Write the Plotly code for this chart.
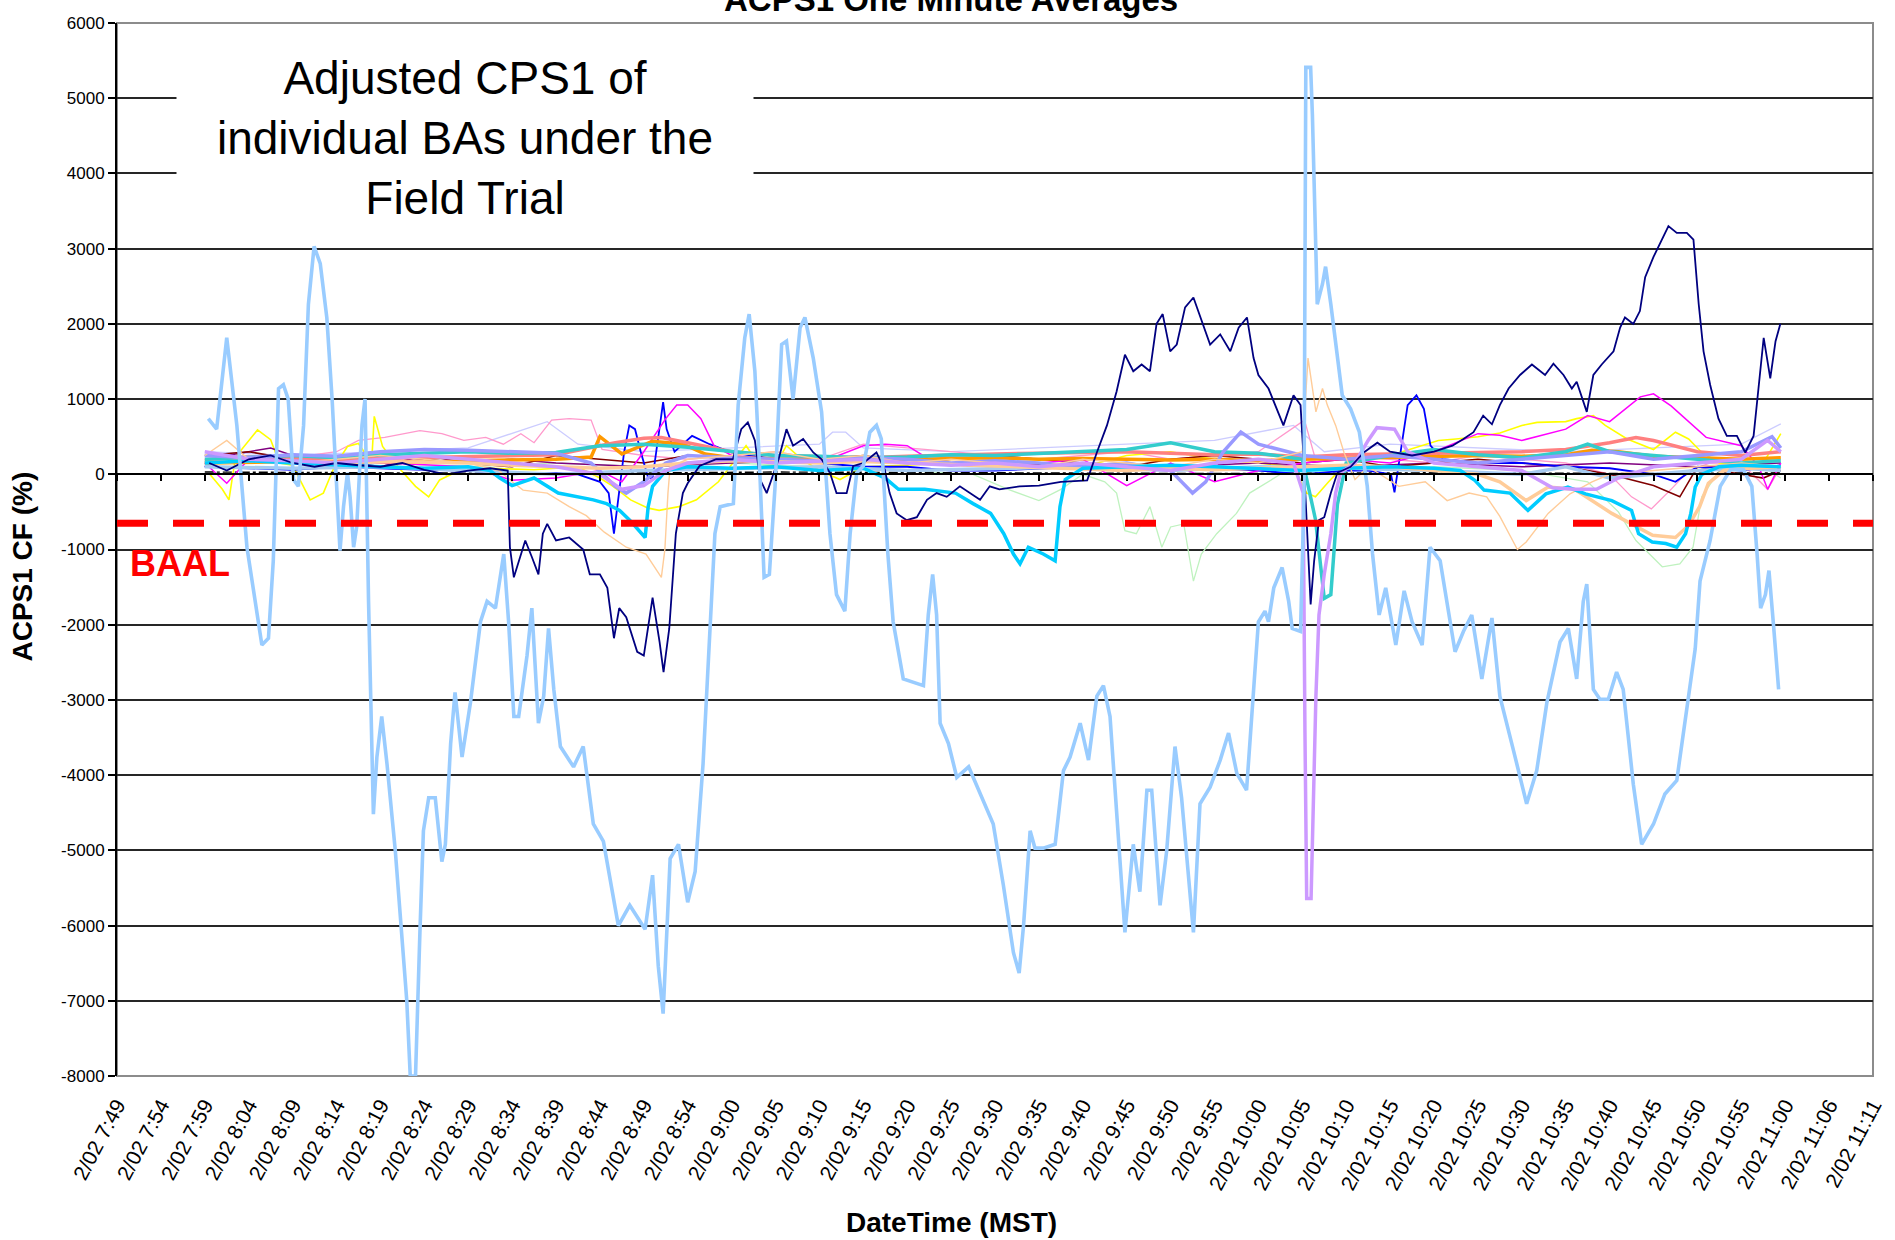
import plotly.graph_objects as go

# ---------------- axis categories (tick labels at category-group boundaries) ----------------
TIME_LABELS = ["2/02 7:49", "2/02 7:54", "2/02 7:59", "2/02 8:04", "2/02 8:09", "2/02 8:14",
               "2/02 8:19", "2/02 8:24", "2/02 8:29", "2/02 8:34", "2/02 8:39", "2/02 8:44",
               "2/02 8:49", "2/02 8:54", "2/02 9:00", "2/02 9:05", "2/02 9:10", "2/02 9:15",
               "2/02 9:20", "2/02 9:25", "2/02 9:30", "2/02 9:35", "2/02 9:40", "2/02 9:45",
               "2/02 9:50", "2/02 9:55", "2/02 10:00", "2/02 10:05", "2/02 10:10", "2/02 10:15",
               "2/02 10:20", "2/02 10:25", "2/02 10:30", "2/02 10:35", "2/02 10:40", "2/02 10:45",
               "2/02 10:50", "2/02 10:55", "2/02 11:00", "2/02 11:06", "2/02 11:11"]
TICK_POS = list(range(len(TIME_LABELS)))
Y_TICKS = list(range(-8000, 6001, 1000))
Y_TICK_TEXT = [str(v) for v in Y_TICKS]
BAAL_POS = [0, 40]
BAAL_VAL = [-650, -650]

# ---------------- series: (position on category axis, ACPS1 CF %) ----------------
LIGHT_BLUE = [(2.08, 740), (2.27, 600), (2.5, 1815), (2.73, 650), (2.96, -970), (3.19, -1870), (3.3, -2270),
              (3.45, -2180), (3.56, -1150), (3.68, 1140), (3.79, 1190), (3.9, 1000), (4.02, -70), (4.13, -160),
              (4.25, 650), (4.36, 2260), (4.49, 3030), (4.63, 2800), (4.78, 2080), (4.9, 1000), (5.0, -70),
              (5.08, -1015), (5.16, -430), (5.25, 20), (5.31, -300), (5.39, -970), (5.46, -700), (5.58, 650),
              (5.65, 1000), (5.73, -1690), (5.84, -4520), (5.92, -3760), (6.03, -3220), (6.15, -3850),
              (6.34, -5010), (6.49, -6090), (6.6, -6990), (6.68, -8000), (6.8, -8000), (6.9, -6090),
              (6.98, -4740), (7.1, -4300), (7.25, -4300), (7.4, -5150), (7.48, -4920), (7.6, -3580),
              (7.7, -2900), (7.86, -3760), (8.05, -3040), (8.28, -1960), (8.43, -1690), (8.62, -1780),
              (8.81, -1060), (8.92, -1960), (9.04, -3220), (9.15, -3220), (9.34, -2410), (9.45, -1780),
              (9.6, -3310), (9.72, -2950), (9.83, -2050), (9.95, -2860), (10.1, -3620), (10.4, -3890),
              (10.62, -3620), (10.85, -4650), (11.08, -4880), (11.42, -6000), (11.68, -5730), (12.03, -6050),
              (12.2, -5330), (12.33, -6540), (12.44, -7170), (12.6, -5110), (12.79, -4920), (13.0, -5690),
              (13.17, -5280), (13.35, -3850), (13.5, -2050), (13.62, -790), (13.74, -430), (14.04, -390),
              (14.15, 920), (14.3, 1815), (14.4, 2130), (14.53, 1370), (14.65, -70), (14.74, -1370),
              (14.86, -1330), (14.99, -160), (15.14, 1725), (15.25, 1770), (15.4, 1000), (15.56, 1950),
              (15.67, 2085), (15.86, 1545), (16.05, 830), (16.24, -790), (16.39, -1600), (16.58, -1820),
              (16.7, -790), (16.85, 20), (17.0, 110), (17.15, 560), (17.3, 650), (17.41, 470), (17.56, -1060),
              (17.68, -1960), (17.91, -2720), (18.14, -2770), (18.37, -2810), (18.48, -1870), (18.58, -1330),
              (18.67, -1870), (18.75, -3310), (18.94, -3580), (19.13, -4030), (19.4, -3890), (19.66, -4250),
              (19.96, -4650), (20.19, -5460), (20.42, -6360), (20.55, -6630), (20.65, -6000), (20.8, -4740),
              (20.91, -4970), (21.1, -4970), (21.37, -4920), (21.56, -3940), (21.71, -3760), (21.94, -3310),
              (22.13, -3800), (22.32, -2950), (22.47, -2810), (22.62, -3220), (22.77, -4560), (22.96, -6090),
              (23.15, -4920), (23.3, -5550), (23.46, -4200), (23.57, -4200), (23.76, -5730), (23.91, -5010),
              (24.1, -3620), (24.25, -4300), (24.52, -6090), (24.67, -4380), (24.9, -4160), (25.13, -3800),
              (25.32, -3440), (25.51, -3980), (25.73, -4200), (25.89, -2950), (26.0, -1960), (26.15, -1820),
              (26.23, -1960), (26.35, -1510), (26.54, -1240), (26.69, -1690), (26.77, -2050), (26.96, -2090),
              (27.04, -250), (27.08, 5410), (27.19, 5410), (27.23, 4780), (27.27, 3660), (27.34, 2260),
              (27.46, 2530), (27.53, 2760), (27.65, 2260), (27.76, 1725), (27.91, 1050), (28.1, 870),
              (28.3, 560), (28.48, -160), (28.6, -1060), (28.75, -1870), (28.9, -1510), (29.13, -2270),
              (29.32, -1550), (29.5, -1960), (29.73, -2270), (29.91, -970), (30.14, -1150), (30.48, -2360),
              (30.67, -2090), (30.86, -1870), (31.09, -2720), (31.32, -1910), (31.5, -2950), (31.81, -3670),
              (32.11, -4380), (32.34, -3940), (32.57, -3040), (32.87, -2230), (33.06, -2050), (33.25, -2720),
              (33.4, -1690), (33.48, -1460), (33.63, -2860), (33.78, -2990), (33.97, -2990), (34.16, -2630),
              (34.31, -2860), (34.54, -4120), (34.73, -4920), (35.0, -4650), (35.26, -4250), (35.53, -4070),
              (35.76, -3130), (35.95, -2320), (36.06, -1420), (36.29, -880), (36.52, -160), (36.75, 60),
              (37.05, 60), (37.24, -160), (37.36, -1060), (37.44, -1780), (37.55, -1600), (37.63, -1280),
              (37.74, -2050), (37.85, -2860)]

NAVY = [(2.1, 150), (2.5, 50), (3, 200), (3.5, 250), (4, 150), (4.5, 100), (5, 150), (5.5, 120), (6, 100),
        (6.5, 150), (7, 60), (7.5, 0), (8, 50), (8.5, 80), (8.9, 50), (8.95, -970), (9.04, -1370),
        (9.15, -1150), (9.3, -880), (9.45, -1100), (9.6, -1330), (9.7, -790), (9.8, -660), (10.0, -880),
        (10.3, -840), (10.62, -1000), (10.77, -1330), (11.0, -1330), (11.17, -1510), (11.32, -2180),
        (11.44, -1780), (11.6, -1900), (11.85, -2360), (12.0, -2410), (12.2, -1640), (12.36, -2230),
        (12.45, -2630), (12.58, -2050), (12.73, -790), (12.89, -250), (13.0, -120), (13.27, 110),
        (13.65, 200), (14.03, 200), (14.22, 600), (14.37, 690), (14.53, 450), (14.65, -70), (14.8, -250),
        (15.07, 200), (15.25, 600), (15.4, 380), (15.63, 470), (15.86, 290), (16.05, 200), (16.24, 20),
        (16.39, -250), (16.62, -250), (16.77, 110), (17.0, 150), (17.3, 290), (17.49, 60), (17.6, -250),
        (17.76, -520), (17.99, -610), (18.22, -570), (18.45, -340), (18.67, -250), (18.9, -300),
        (19.2, -160), (19.66, -340), (19.88, -160), (20.1, -200), (20.56, -160), (21.0, -150),
        (21.5, -100), (22.1, -80), (22.32, 290), (22.55, 650), (22.77, 1100), (22.96, 1590), (23.15, 1370),
        (23.34, 1460), (23.53, 1370), (23.68, 2000), (23.82, 2130), (23.99, 1635), (24.14, 1725),
        (24.33, 2220), (24.52, 2350), (24.71, 2040), (24.9, 1725), (25.13, 1860), (25.36, 1635),
        (25.55, 1950), (25.74, 2085), (25.89, 1545), (26.0, 1320), (26.23, 1140), (26.42, 870),
        (26.57, 650), (26.8, 1050), (26.96, 920), (27.04, 100), (27.11, -790), (27.19, -1730),
        (27.27, -1150), (27.38, -610), (27.5, -570), (27.65, -250), (27.8, 20), (28.1, 100), (28.4, 290),
        (28.71, 420), (29.0, 300), (29.5, 250), (30.0, 300), (30.42, 380), (30.67, 470), (30.9, 560),
        (31.12, 780), (31.32, 665), (31.5, 920), (31.7, 1140), (31.96, 1320), (32.23, 1460), (32.53, 1320),
        (32.72, 1470), (32.95, 1320), (33.14, 1140), (33.25, 1230), (33.48, 830), (33.63, 1320),
        (33.82, 1460), (34.09, 1635), (34.24, 1950), (34.35, 2085), (34.54, 2000), (34.69, 2170),
        (34.81, 2620), (35.0, 2890), (35.15, 3070), (35.34, 3300), (35.53, 3210), (35.76, 3210),
        (35.91, 3120), (36.03, 2260), (36.14, 1635), (36.29, 1190), (36.48, 740), (36.67, 510),
        (36.9, 510), (37.09, 290), (37.28, 510), (37.4, 1190), (37.51, 1815), (37.66, 1275),
        (37.78, 1770), (37.89, 2000)]

CYAN = [(2, 150), (3, 180), (4, 150), (5, 120), (6, 100), (7, 80), (8, 100), (8.5, 50), (8.72, -50),
        (9.0, -150), (9.5, -50), (10.05, -250), (10.5, -300), (10.85, -340), (11.15, -390), (11.45, -480),
        (11.68, -610), (11.9, -750), (12.03, -840), (12.1, -430), (12.2, -160), (12.5, 50), (13, 100),
        (14, 80), (15, 100), (16, 50), (17, 80), (17.5, -50), (17.8, -200), (18.4, -200), (19.1, -250),
        (19.5, -390), (19.9, -520), (20.2, -790), (20.42, -1060), (20.57, -1190), (20.76, -970),
        (21.1, -1060), (21.37, -1150), (21.48, -430), (21.6, -70), (22, 80), (23, 100), (24, 120),
        (25, 100), (26, 80), (27, 50), (28, 80), (29, 100), (30, 80), (30.6, 50), (30.93, -80),
        (31.14, -210), (31.73, -250), (32.14, -480), (32.55, -260), (33.05, -170), (33.45, -260),
        (34.05, -350), (34.5, -480), (34.66, -790), (34.97, -900), (35.28, -920), (35.53, -970),
        (35.73, -790), (35.85, -520), (35.95, -170), (36.1, 0), (36.5, 100), (37, 120), (37.9, 100)]

LAVENDER = [(2, 300), (3, 200), (4, 180), (5, 150), (6, 200), (7, 250), (8, 200), (9, 150), (10, 100),
            (11, 0), (11.5, -200), (12, -150), (12.5, 50), (13, 150), (14, 200), (15, 150), (16, 180),
            (17, 200), (18, 150), (19, 120), (20, 150), (21, 100), (22, 150), (23, 100), (24, 50),
            (25, 150), (26, 200), (26.8, 150), (27.02, -250), (27.06, -3400), (27.1, -5640), (27.2, -5640),
            (27.24, -4470), (27.31, -2950), (27.38, -1870), (27.5, -1330), (27.65, -790), (27.76, -250),
            (27.87, 20), (28.2, 150), (28.5, 450), (28.7, 620), (29.1, 600), (29.4, 300), (30, 150),
            (31, 100), (32, 50), (32.7, -180), (33.2, -200), (33.7, -200), (34.2, -50), (35, 100),
            (36, 150), (37, 200), (37.6, 450), (37.9, 300)]

TEAL = [(2, 200), (3, 230), (4, 250), (5, 220), (6, 260), (7, 280), (8, 300), (9, 280), (10, 290),
        (11, 380), (12, 400), (13, 360), (14, 300), (15, 250), (16, 240), (17, 220), (18, 230), (19, 260),
        (20, 250), (21, 280), (22, 300), (23, 330), (24, 420), (25, 300), (26, 280), (27, 200),
        (27.3, -600), (27.5, -1650), (27.65, -1600), (27.8, -400), (28, 150), (29, 250), (30, 330),
        (31, 260), (32, 220), (33, 300), (33.5, 400), (34, 300), (35, 250), (36, 200), (37, 150), (37.9, 180)]

SALMON = [(2, 180), (3, 200), (4, 220), (5, 200), (6, 210), (7, 230), (8, 240), (9, 250), (10, 260),
          (11, 380), (11.35, 420), (12, 480), (12.4, 490), (13, 420), (14, 300), (15, 250), (16, 230),
          (17, 220), (18, 240), (19, 260), (20, 270), (21, 280), (22, 290), (23, 300), (24, 280),
          (25, 260), (26, 270), (27, 230), (28, 260), (29, 270), (30, 280), (31, 290), (32, 300),
          (33, 330), (34, 420), (34.6, 490), (35, 450), (36, 300), (37, 250), (37.9, 300)]

ORANGE = [(2, 150), (3, 160), (4, 170), (5, 180), (6, 170), (7, 160), (8, 180), (9, 190), (10, 200),
          (10.8, 230), (11.0, 500), (11.5, 270), (12.2, 440), (12.9, 400), (13.4, 270), (14, 220),
          (15, 200), (16, 190), (17, 180), (18, 200), (19, 210), (20, 220), (21, 200), (22, 210),
          (23, 200), (24, 190), (25, 200), (26, 180), (27, 200), (28, 210), (29, 220), (30, 230),
          (31, 250), (32, 240), (33, 260), (33.6, 320), (34.2, 300), (35, 240), (36, 220), (37, 200), (37.9, 220)]

PERIWINKLE = [(2, 250), (3, 220), (4, 260), (5, 240), (6, 300), (7, 330), (8, 320), (9, 300), (10, 280),
              (10.8, 150), (11.35, -160), (11.6, -250), (12, -100), (12.5, 150), (13, 250), (14, 220),
              (15, 200), (16, 180), (17, 220), (18, 200), (19, 150), (20, 180), (21, 150), (22, 100),
              (23, 150), (24, 50), (24.5, -250), (24.8, -100), (25.2, 300), (25.6, 560), (26, 400),
              (27, 250), (28, 200), (29, 250), (30, 200), (31, 150), (32, 200), (33, 250), (34, 300),
              (35, 200), (36, 250), (37, 300), (37.7, 500), (37.9, 350)]

TAN_THICK = [(2, 150), (3, 180), (4, 160), (5, 150), (6, 170), (7, 160), (8, 150), (9, 120), (10, 100),
             (11, 80), (12, 100), (13, 150), (14, 180), (15, 160), (16, 150), (17, 170), (18, 150),
             (19, 120), (20, 100), (21, 80), (22, 60), (23, 50), (24, 80), (25, 60), (26, 80), (27, 100),
             (28, 120), (29, 100), (30, 50), (31, 0), (31.5, -100), (32.1, -350), (32.6, -170), (33.2, -200),
             (34.05, -520), (34.67, -720), (34.98, -810), (35.5, -840), (35.8, -680), (36.05, -430),
             (36.25, -120), (36.6, 50), (37.2, 80), (37.9, 100)]

SKY_THICK = [(2, 100), (4, 80), (6, 100), (8, 50), (10, 0), (12, 50), (14, 80), (16, 100), (18, 50),
             (20, 80), (22, 100), (24, 50), (26, 100), (28, 80), (30, 50), (32, 0), (33, 100), (34, -50),
             (35, 0), (36, 50), (37, 80), (37.9, 50)]

PEACH_THIN = [(2, 250), (2.5, 450), (3, 200), (4, 150), (5, 200), (6, 250), (7, 200), (8, 150), (8.7, 50),
              (9.0, -100), (9.25, -210), (9.8, -250), (10.3, -430), (10.69, -550), (11.1, -770), (11.6, -970),
              (12.05, -1060), (12.4, -1370), (12.48, -1000), (12.55, -250), (12.6, 100), (13, 200), (14, 250),
              (15, 300), (16, 200), (17, 250), (18, 150), (19, 200), (20, 150), (21, 100), (22, 200),
              (23, 150), (24, 100), (25, 200), (26, 150), (27.0, 300), (27.13, 1545), (27.31, 830),
              (27.46, 1140), (27.57, 920), (27.76, 650), (27.95, 290), (28.2, -70), (28.5, 100), (29.2, -160),
              (29.8, -100), (30.3, -350), (30.8, -250), (31.2, -300), (31.5, -560), (31.9, -1000),
              (32.1, -900), (32.6, -520), (33.1, -260), (33.6, -100), (34, 0), (35, 50), (36, 100),
              (37, 150), (37.9, 100)]

YELLOW = [(2.1, 10), (2.4, -200), (2.55, -340), (2.7, 230), (3.2, 590), (3.5, 460), (3.7, 150), (4.0, 120),
          (4.4, -340), (4.7, -250), (4.95, 100), (5.25, 370), (5.5, 410), (5.8, 150), (5.86, 770),
          (6.05, 370), (6.4, 100), (6.8, -160), (7.1, -300), (7.35, -75), (7.8, 50), (8.5, 80), (9.5, 60),
          (10.5, 100), (11.0, -50), (11.3, -160), (11.7, -340), (12.1, -450), (12.35, -480), (12.8, -430),
          (13.2, -340), (13.7, -100), (14.33, 380), (14.65, 100), (15.0, 120), (15.25, 380), (15.6, 200),
          (16.0, 50), (16.47, -70), (17, 100), (18, 120), (19, 150), (20, 200), (21, 120), (22, 100),
          (23, 250), (24, 300), (25, 200), (26, 150), (26.8, 100), (27.1, -250), (27.3, -300), (27.6, -100),
          (28, 150), (29, 250), (30.1, 450), (30.5, 470), (31, 500), (31.5, 550), (32, 650), (32.35, 690),
          (33, 700), (33.25, 740), (33.63, 780), (33.9, 650), (34.4, 470), (35, 330), (35.5, 560),
          (35.8, 470), (36.1, 290), (36.5, 150), (37, 120), (37.5, 150), (37.9, 540)]

MAGENTA = [(2, 150), (2.5, -120), (3, 200), (4, 250), (5, 180), (6, 150), (7, 120), (8, 100), (9, -80),
           (10, -50), (11, 50), (11.5, -100), (12, 300), (12.5, 740), (12.75, 920), (13, 920), (13.3, 740),
           (13.6, 380), (14, 250), (15, 200), (16, 150), (17, 380), (17.5, 400), (18, 380), (18.5, 200),
           (19, 150), (20, 100), (21, 150), (22, 200), (23, -150), (24, 150), (25, -100), (26, 50),
           (27, 150), (28, 200), (29, 150), (30, 300), (31, 540), (31.5, 520), (32, 450), (33, 600),
           (33.5, 780), (34, 700), (34.7, 1030), (35, 1070), (35.4, 910), (35.8, 700), (36.2, 490),
           (37, 380), (37.4, 100), (37.6, -200), (37.9, 150)]

PINK = [(2, 200), (3, 250), (4, 220), (5, 300), (5.5, 450), (6.1, 490), (6.9, 580), (7.4, 540), (7.9, 450),
        (8.4, 490), (8.8, 400), (9.2, 540), (9.5, 420), (9.9, 720), (10.3, 740), (10.8, 720), (11.05, 330),
        (12, 250), (13, 200), (14, 250), (15, 300), (16, 200), (17, 400), (18, 350), (19, 300), (20, 250),
        (21, 200), (22, 250), (23, 300), (24, 200), (25, 250), (26, 300), (27.05, 720), (27.3, 200),
        (28, 250), (29, 200), (30, 150), (31, 250), (32, 200), (33, 150), (34, 0), (34.5, -300),
        (34.95, -460), (35.4, -200), (35.8, 50), (36.3, 150), (37, 150), (37.6, -200), (37.9, 100)]

PALE_GREEN = [(2, 150), (4, 200), (6, 150), (8, 100), (10, 150), (12, 100), (14, 150), (16, 100), (18, 50),
              (19.5, 0), (20.3, -200), (21, -350), (21.5, -200), (22, 0), (22.5, -100), (22.77, -250),
              (22.96, -750), (23.22, -790), (23.53, -430), (23.8, -970), (24.0, -700), (24.3, -660),
              (24.52, -1420), (24.7, -1060), (25.05, -790), (25.5, -520), (25.8, -250), (26.5, 0), (28, 50),
              (30, 100), (32, 50), (33.5, -100), (34.2, -500), (34.6, -880), (35.2, -1230), (35.6, -1190),
              (35.9, -970), (36.1, -300), (36.5, 50), (37.5, 100), (37.9, -50)]

BLUE = [(2, 100), (3, 80), (4, 60), (5, 100), (6, 80), (7, 60), (8, 50), (9, 0), (10, 20), (10.5, 0),
        (11, -100), (11.2, -250), (11.32, -790), (11.44, -200), (11.55, 290), (11.67, 650), (11.8, 600),
        (11.93, 300), (12.1, -50), (12.2, -50), (12.33, 470), (12.44, 960), (12.52, 600), (12.7, 300),
        (13.1, 510), (13.5, 400), (14, 290), (15, 200), (16, 150), (17, 100), (18, 100), (19, 50), (20, 50),
        (21, 80), (22, 100), (23, 50), (24, 100), (25, 80), (26, 50), (27, 0), (28, 50), (28.5, 50),
        (29.02, 0), (29.1, -240), (29.24, 290), (29.4, 920), (29.6, 1050), (29.77, 870), (29.92, 380),
        (30.2, 200), (31, 150), (32, 150), (33, 100), (34, 80), (35, 0), (35.5, -100), (36, 100),
        (37, 50), (37.9, 120)]

DARK_RED = [(2, 250), (3, 300), (4, 200), (5, 150), (6, 250), (7, 200), (8, 150), (9, 100), (10, 250),
            (11, 200), (12, 150), (13, 250), (14, 200), (15, 150), (16, 200), (17, 250), (18, 150), (19, 200),
            (20, 250), (21, 200), (22, 150), (23, 100), (24, 200), (25, 250), (26, 200), (27, 150), (28, 200),
            (29, 100), (30, 150), (31, 200), (32, 150), (33, 100), (34, 0), (35, -150), (35.6, -300),
            (36, 100), (37, 0), (37.5, -50), (37.9, 50)]

PURPLE = [(2, 100), (2.5, 250), (3, 300), (3.5, 350), (4, 250), (5, 200), (6, 100), (7, 250), (8, 150),
          (9, 200), (10, 150), (12, 100), (14, 150), (16, 200), (18, 150), (20, 100), (22, 150), (24, 100),
          (26, 150), (28, 100), (30, 150), (32, 100), (34, 150), (36, 100), (37.9, 150)]

PALE_LILAC = [(2, 300), (4, 250), (6, 300), (8, 350), (9.8, 700), (10.5, 400), (12, 300), (14, 350),
              (16, 400), (16.3, 560), (16.6, 560), (17, 350), (19, 300), (21, 350), (23, 400), (25, 450),
              (26.8, 650), (27.5, 300), (29, 400), (31, 350), (33, 300), (35, 350), (37, 400), (37.9, 670)]

BLACK_DD = [(2, 30), (5, 20), (10, 10), (15, 30), (20, 20), (25, 10), (30, 20), (35, 10), (37.9, 20)]

# drawing order: first drawn = bottom
SERIES = [
    ("Pale green", PALE_GREEN, "#bff2bf", 1.3, "solid"),
    ("Pale lilac", PALE_LILAC, "#ccccff", 1.3, "solid"),
    ("Pink", PINK, "#ff99cc", 1.3, "solid"),
    ("Yellow", YELLOW, "#ffff00", 1.6, "solid"),
    ("Black", BLACK_DD, "#000000", 1.4, "dashdot"),
    ("Purple", PURPLE, "#800080", 1.6, "solid"),
    ("Dark red", DARK_RED, "#800000", 1.6, "solid"),
    ("Blue", BLUE, "#0000ff", 1.8, "solid"),
    ("Magenta", MAGENTA, "#ff00ff", 1.5, "solid"),
    ("Sky", SKY_THICK, "#a6caf0", 3.5, "solid"),
    ("Orange", ORANGE, "#ff9900", 3.5, "solid"),
    ("Salmon", SALMON, "#ff8080", 3.5, "solid"),
    ("Teal", TEAL, "#33cccc", 3.5, "solid"),
    ("Periwinkle", PERIWINKLE, "#9999ff", 3.5, "solid"),
    ("Tan", TAN_THICK, "#ffcc99", 3.5, "solid"),
    ("Peach", PEACH_THIN, "#ffcc99", 1.4, "solid"),
    ("Cyan", CYAN, "#00ccff", 3.5, "solid"),
    ("Lavender", LAVENDER, "#cc99ff", 3.5, "solid"),
    ("Navy", NAVY, "#000080", 1.8, "solid"),
    ("Light blue", LIGHT_BLUE, "#99ccff", 3.6, "solid"),
]

fig = go.Figure()
for name, pts, color, width, dash in SERIES:
    fig.add_trace(go.Scatter(
        x=[p for p, _ in pts], y=[v for _, v in pts], name=name, mode="lines",
        line=dict(color=color, width=width, dash=dash), hoverinfo="skip", showlegend=False))

# BAAL dashed line on the zero-crossing category axis
fig.add_trace(go.Scatter(x=BAAL_POS, y=BAAL_VAL, xaxis="x2", mode="lines", name="BAAL",
                         line=dict(color="#ff0000", width=7, dash="31px,25px"),
                         hoverinfo="skip", showlegend=False))

FONT = "Liberation Sans, Arial, sans-serif"

fig.update_layout(
    width=1895, height=1240,
    margin=dict(l=117, r=22, t=23, b=164),
    plot_bgcolor="#ffffff", paper_bgcolor="#ffffff",
    showlegend=False,
    xaxis=dict(range=[0, 40], tickvals=TICK_POS, ticktext=TIME_LABELS, tickangle=-62,
               tickfont=dict(family=FONT, size=21, color="#000000"), ticks="", showgrid=False,
               zeroline=False, showline=False, automargin=False, ticklabelstandoff=12),
    xaxis2=dict(range=[0, 40], overlaying="x", anchor="free", position=8000 / 14000,
                side="bottom", tickvals=TICK_POS, showticklabels=False, ticks="outside",
                ticklen=6, tickwidth=1.5, tickcolor="#000000", showline=True, linecolor="#000000",
                linewidth=2, showgrid=False, zeroline=False),
    yaxis=dict(range=[-8000, 6000], tickvals=Y_TICKS, ticktext=Y_TICK_TEXT,
               tickfont=dict(family=FONT, size=17, color="#000000"),
               ticks="outside", ticklen=7, tickwidth=1.5, tickcolor="#000000", showgrid=True,
               gridcolor="#262626", gridwidth=2, zeroline=False, showline=True, linecolor="#000000",
               linewidth=2, automargin=False),
)

# plot-area border (grey)
fig.add_shape(type="rect", xref="paper", yref="paper", x0=0, x1=1, y0=0, y1=1,
              line=dict(color="#8c8c8c", width=2), layer="below")

# chart title, partly cut off at the top edge (as in the reference)
fig.add_annotation(text="<b>ACPS1 One Minute Averages</b>", xref="paper", yref="paper",
                   x=0.475, y=1.0225, xanchor="center", yanchor="middle", showarrow=False,
                   font=dict(family=FONT, size=33, color="#000000"))
# axis titles
fig.add_annotation(text="<b>DateTime (MST)</b>", xref="paper", yref="paper",
                   x=0.475, y=-0.1396, xanchor="center", yanchor="middle", showarrow=False,
                   font=dict(family=FONT, size=28, color="#000000"))
fig.add_annotation(text="<b>ACPS1 CF (%)</b>", xref="paper", yref="paper", textangle=-90,
                   x=-0.054, y=0.484, xanchor="center", yanchor="middle", showarrow=False,
                   font=dict(family=FONT, size=28, color="#000000"))
# BAAL label
fig.add_annotation(text="<b>BAAL</b>", xref="paper", yref="paper",
                   x=0.0359, y=0.487, xanchor="center", yanchor="middle", showarrow=False,
                   font=dict(family=FONT, size=36, color="#ff0000"))
# overlay text box
fig.add_annotation(text="Adjusted CPS1 of<br>individual BAs under the<br>Field Trial",
                   xref="paper", yref="paper", x=0.198, y=0.8908, xanchor="center", yanchor="middle",
                   showarrow=False, width=574, height=200, bgcolor="#ffffff", align="center",
                   font=dict(family=FONT, size=46, color="#000000"))

fig.write_html("out.html", config={"displayModeBar": False},
               post_script="document.body.style.margin='0px';")
